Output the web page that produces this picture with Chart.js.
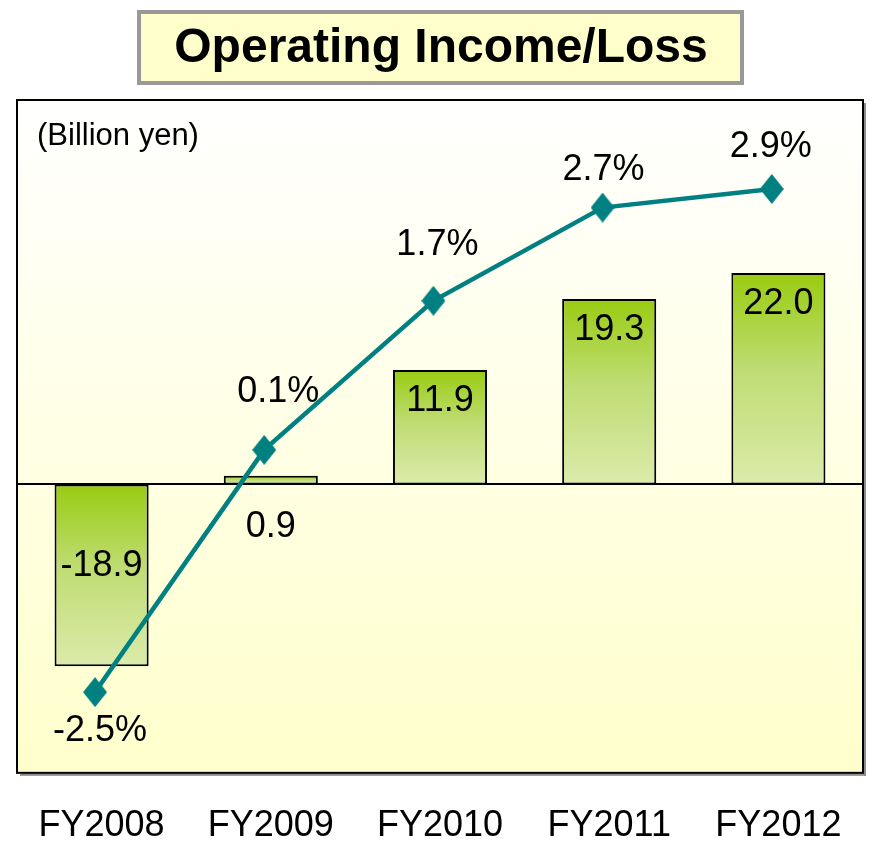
<!DOCTYPE html>
<html><head><meta charset="utf-8">
<script src="https://cdn.jsdelivr.net/npm/chart.js@4/dist/chart.umd.min.js"></script>
<style>html,body{margin:0;padding:0;background:#fff;overflow:hidden}#wrap{width:872px;height:841px}</style>
</head><body><div id="wrap"><canvas id="c" width="872" height="841"></canvas></div>
<script>
// ---- data ----
const categories = ['FY2008', 'FY2009', 'FY2010', 'FY2011', 'FY2012'];
const operatingIncome = [-18.9, 0.9, 11.9, 19.3, 22.0];   // billion yen
const operatingMargin = [-2.5, 0.1, 1.7, 2.7, 2.9];       // percent
const incomeLabels = ['-18.9', '0.9', '11.9', '19.3', '22.0'];
const marginLabels = ['-2.5%', '0.1%', '1.7%', '2.7%', '2.9%'];
const titleText = 'Operating Income/Loss';
const unitText = '(Billion yen)';

// ---- style ----
const FONT = '"Liberation Sans", Arial, sans-serif';
const marginLabelOffsets = [[5, 37], [14, -60], [4, -58], [1, -40], [-1, -44]];
const TEAL = '#008080';

function diamond(w, h, color) {
  const c = document.createElement('canvas');
  c.width = w; c.height = h;
  const x = c.getContext('2d');
  x.fillStyle = color;
  x.beginPath();
  x.moveTo(w / 2, 0); x.lineTo(w, h / 2); x.lineTo(w / 2, h); x.lineTo(0, h / 2);
  x.closePath(); x.fill();
  return c;
}
const diamondImg = diamond(24, 30, TEAL);

function barFill(ctx) {
  const chart = ctx.chart;
  if (!chart.chartArea || ctx.type !== 'data') return '#B5D84F';
  const y = chart.scales.y;
  const p0 = y.getPixelForValue(0), p1 = y.getPixelForValue(ctx.raw);
  const top = Math.min(p0, p1), bot = Math.max(p0, p1);
  if (bot - top < 1) return '#99CC11';
  const g = chart.ctx.createLinearGradient(0, top, 0, bot);
  g.addColorStop(0, '#99CC11');
  g.addColorStop(0.45, '#BEDC72');
  g.addColorStop(1, '#DCEBAB');
  return g;
}

const decor = {
  id: 'decor',
  beforeDraw(chart) {
    const c = chart.ctx, a = chart.chartArea;
    c.save();
    // title box
    c.fillStyle = '#FFFFCC';
    c.fillRect(139, 12, 603, 71);
    c.strokeStyle = '#999999';
    c.lineWidth = 4;
    c.strokeRect(139, 12, 603, 71);
    c.fillStyle = '#000';
    c.font = 'bold 48px ' + FONT;
    c.textAlign = 'center';
    c.textBaseline = 'middle';
    c.fillText(titleText, 441, 49);
    // plot background
    const g = c.createLinearGradient(0, a.top, 0, a.bottom);
    g.addColorStop(0, '#FFFFFF');
    g.addColorStop(1, '#FFFFCC');
    c.fillStyle = g;
    c.fillRect(a.left, a.top, a.right - a.left, a.bottom - a.top);
    // shadow
    c.fillStyle = '#8c8c8c';
    c.fillRect(a.right + 1, a.top + 3, 2, a.bottom - a.top);
    c.fillRect(a.left + 3, a.bottom + 1, a.right - a.left, 2);
    // border
    c.strokeStyle = '#000';
    c.lineWidth = 2;
    c.strokeRect(a.left, a.top, a.right - a.left, a.bottom - a.top);
    // unit text
    c.fillStyle = '#000';
    c.font = '31px ' + FONT;
    c.textAlign = 'left';
    c.textBaseline = 'middle';
    c.fillText(unitText, 37, 136);
    c.restore();
  },
  afterDatasetDraw(chart, args) {
    if (args.index !== 0) return;
    const c = chart.ctx, a = chart.chartArea;
    const y0 = Math.round(chart.scales.y.getPixelForValue(0));
    c.save();
    c.strokeStyle = '#000';
    c.lineWidth = 2;
    c.beginPath();
    c.moveTo(a.left, y0); c.lineTo(a.right, y0);
    c.stroke();
    c.restore();
  },
  afterDraw(chart) {
    const c = chart.ctx;
    c.save();
    c.fillStyle = '#000';
    c.font = '36px ' + FONT;
    c.textAlign = 'center';
    c.textBaseline = 'middle';
    const bars = chart.getDatasetMeta(0).data;
    bars.forEach((b, i) => {
      const v = operatingIncome[i];
      const top = Math.min(b.y, b.base), bot = Math.max(b.y, b.base);
      let ty;
      if (bot - top < 60) ty = b.base + 43;
      else if (v >= 0) ty = top + 31;
      else ty = (top + bot) / 2 - 9;
      c.fillText(incomeLabels[i], b.x, ty);
    });
    const pts = chart.getDatasetMeta(1).data;
    pts.forEach((p, i) => {
      const o = marginLabelOffsets[i];
      c.fillText(marginLabels[i], p.x + o[0], p.y + o[1] + 2);
    });
    c.restore();
  }
};

new Chart(document.getElementById('c'), {
  data: {
    labels: categories,
    datasets: [
      {
        type: 'bar',
        data: operatingIncome,
        xAxisID: 'x', yAxisID: 'y',
        backgroundColor: barFill,
        borderColor: '#000',
        borderWidth: 2,
        borderSkipped: false,
        grouped: false,
        barPercentage: 0.556,
        categoryPercentage: 1,
        order: 1
      },
      {
        type: 'line',
        data: operatingMargin.map((v, i) => ({ x: i, y: v })),
        xAxisID: 'x2', yAxisID: 'y2',
        borderColor: TEAL,
        borderWidth: 4.5,
        tension: 0,
        pointStyle: diamondImg,
        pointRadius: 12,
        order: 0
      }
    ]
  },
  options: {
    responsive: false,
    animation: false,
    devicePixelRatio: 1,
    layout: { autoPadding: false, padding: { left: 17, right: 9, top: 100, bottom: -38 } },
    plugins: { legend: { display: false }, tooltip: { enabled: false }, title: { display: false } },
    scales: {
      x: {
        type: 'category',
        grid: { display: false, drawTicks: false },
        border: { display: false },
        ticks: { color: '#000', font: { family: FONT, size: 36, lineHeight: 2.06 }, padding: 16, maxRotation: 0, autoSkip: false }
      },
      x2: { type: 'linear', display: false, min: -0.461, max: 4.539 },
      y: { display: false, min: -30, max: 40 },
      y2: { display: false, min: -3.366, max: 3.855 }
    }
  },
  plugins: [decor]
});
</script>
</body></html>
